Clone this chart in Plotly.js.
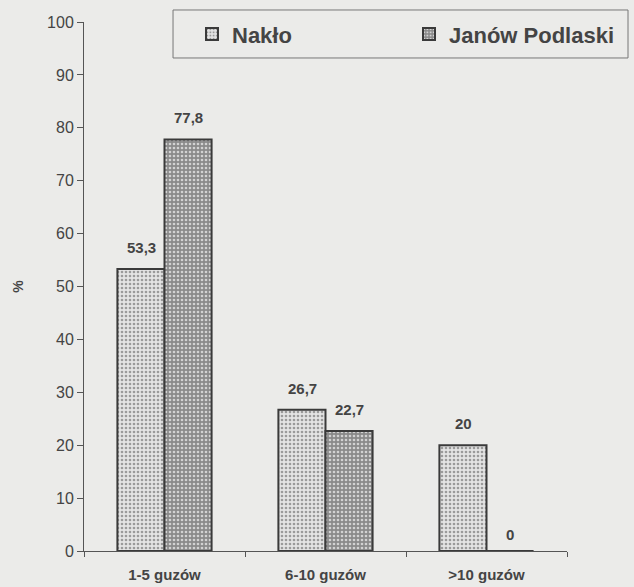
<!DOCTYPE html>
<html>
<head>
<meta charset="utf-8">
<script src="https://cdn.plot.ly/plotly-3.0.1.min.js"></script>
<style>html,body{margin:0;padding:0;background:#ebebe9;}#chart{width:634px;height:587px;}</style>
</head>
<body>
<div id="chart"></div>
<script>
const categories = ["1-5 guzów", "6-10 guzów", ">10 guzów"];
const seriesNames = ["Nakło", "Janów Podlaski"];
const naklo = [53.3, 26.7, 20];
const janow = [77.8, 22.7, 0];
const yTicks = [0, 10, 20, 30, 40, 50, 60, 70, 80, 90, 100];

const fmt = v => String(v).replace(".", ",");
const labelFont = {family: "Liberation Sans, Arial, sans-serif", size: 15, color: "#444", weight: "bold"};

const traces = [
  {
    type: "bar", name: seriesNames[0], x: categories, y: naklo,
    marker: {color: "#dedede", line: {color: "#3a3a3a", width: 2},
      pattern: {shape: ".", fgcolor: "#9a9a9a", bgcolor: "#e4e4e4", size: 4, solidity: 0.35}}
  },
  {
    type: "bar", name: seriesNames[1], x: categories, y: janow,
    marker: {color: "#999", line: {color: "#3a3a3a", width: 2},
      pattern: {shape: ".", fgcolor: "#d2d2d2", bgcolor: "#8a8a8a", size: 4, solidity: 0.35}}
  }
];

const annotations = [];
[naklo, janow].forEach((vals, s) => {
  vals.forEach((v, i) => {
    annotations.push({
      x: categories[i], y: v, xref: "x", yref: "y",
      text: fmt(v), showarrow: false, yanchor: "bottom",
      xshift: s === 0 ? -23.5 : 23.5, yshift: v === 0 ? 6 : 11,
      font: labelFont
    });
  });
});

const layout = {
  width: 634, height: 587,
  paper_bgcolor: "#ebebe9", plot_bgcolor: "rgba(0,0,0,0)",
  margin: {l: 84, r: 67, t: 22, b: 36, autoexpand: false},
  font: {family: "Liberation Sans, Arial, sans-serif", color: "#444"},
  separators: ", ",
  barmode: "group", bargap: 0.415, bargroupgap: 0,
  showlegend: true,
  legend: {
    orientation: "h", x: 0.2236, y: 0.977, xanchor: "left", yanchor: "middle",
    xref: "paper", yref: "paper",
    bgcolor: "rgba(0,0,0,0)", borderwidth: 0,
    font: {size: 22, color: "#444", weight: "bold"},
    entrywidth: 172, entrywidthmode: "pixels",
    itemwidth: 30, traceorder: "normal"
  },
  shapes: [{
    type: "rect", xref: "paper", yref: "paper",
    x0: 0.1843, x1: 1.1263, y0: 0.932, y1: 1.0227,
    line: {color: "#777", width: 1}, fillcolor: "rgba(0,0,0,0)"
  }],
  annotations: annotations,
  xaxis: {
    type: "category", tickson: "boundaries", ticks: "outside", ticklen: 5,
    tickcolor: "#555", showline: true, linecolor: "#555", linewidth: 1,
    showgrid: false, zeroline: false, ticklabelstandoff: 10,
    tickfont: {size: 15, color: "#444", weight: "bold"}
  },
  yaxis: {
    range: [0, 100], tickvals: yTicks, ticks: "outside", ticklen: 6,
    tickcolor: "#555", showline: true, linecolor: "#555", linewidth: 1,
    showgrid: false, zeroline: false,
    tickfont: {size: 16, color: "#444"},
    title: {text: "%", font: {size: 14, color: "#444", weight: "bold"}, standoff: 20}
  }
};

Plotly.newPlot("chart", traces, layout, {displayModeBar: false, staticPlot: true});
</script>
</body>
</html>
